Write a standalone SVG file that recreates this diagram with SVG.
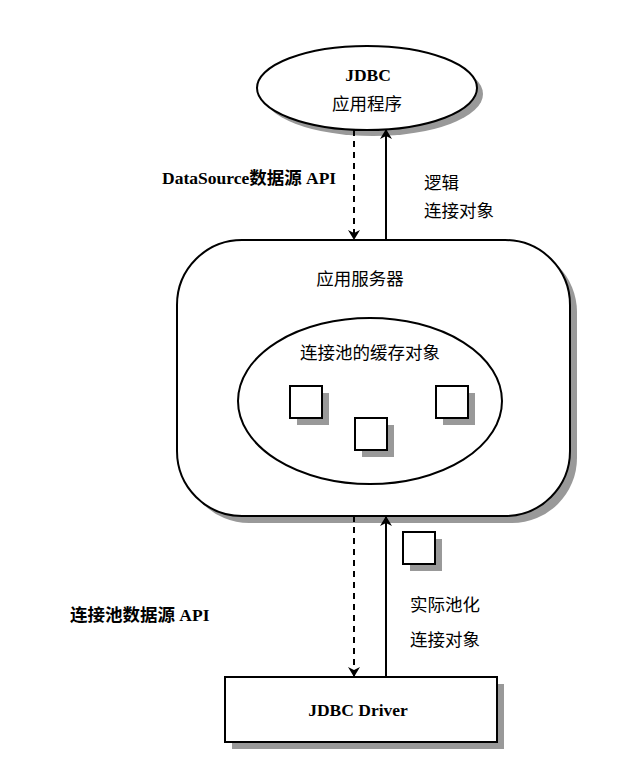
<svg xmlns="http://www.w3.org/2000/svg" width="634" height="761" viewBox="0 0 634 761">
<defs>
<style>
.sh{fill:#999;stroke:none}
.nd{fill:#fff;stroke:#000;stroke-width:2}
.ln{stroke:#000;stroke-width:2;fill:none}
.dash{stroke-dasharray:6,5}
text{font-family:"Liberation Serif","Noto Sans CJK SC",serif;font-size:17.5px;fill:#000}
.b{font-weight:bold}
.c{text-anchor:middle}
</style>
<marker id="ah" viewBox="0 0 10 12" refX="10" refY="6" markerWidth="10" markerHeight="12" markerUnits="userSpaceOnUse" orient="auto">
<path d="M0,0 L10,6 L0,12 L3,6 Z" fill="#000"/>
</marker>
</defs>
<g id="app">
<ellipse class="sh" cx="373" cy="94" rx="110" ry="42"/>
<ellipse class="nd" cx="367" cy="88" rx="110" ry="42"/>
<text class="b c" x="368" y="81" font-size="19">JDBC</text>
<text class="c" x="367" y="110" font-size="16.5">应用程序</text>
</g>
<g id="server">
<rect class="sh" x="184" y="247" width="393" height="276" rx="65" ry="65"/>
<rect class="nd" x="177" y="240" width="393" height="276" rx="65" ry="65"/>
<text class="c" x="360" y="285">应用服务器</text>
</g>
<g id="pool">
<ellipse class="nd" cx="370" cy="401" rx="132" ry="83"/>
<text class="c" x="370" y="359">连接池的缓存对象</text>
</g>
<g id="obj1">
<rect class="sh" x="297" y="393" width="32" height="32"/>
<rect class="nd" x="290" y="386" width="32" height="32"/>
</g>
<g id="obj2">
<rect class="sh" x="443" y="393" width="32" height="32"/>
<rect class="nd" x="436" y="386" width="32" height="32"/>
</g>
<g id="obj3">
<rect class="sh" x="362" y="425" width="32" height="32"/>
<rect class="nd" x="355" y="418" width="32" height="32"/>
</g>
<g id="obj4">
<rect class="sh" x="410" y="539" width="32" height="32"/>
<rect class="nd" x="403" y="532" width="32" height="32"/>
</g>
<g id="driver">
<rect class="sh" x="232" y="684" width="272" height="65"/>
<rect class="nd" x="225" y="677" width="272" height="65"/>
<text class="b c" x="358" y="716" font-size="19">JDBC Driver</text>
</g>
<g id="connectors">
<line class="ln dash" x1="354" y1="130" x2="354" y2="240" marker-end="url(#ah)"/>
<line class="ln" x1="386" y1="240" x2="386" y2="129" marker-end="url(#ah)"/>
<line class="ln dash" x1="354" y1="516" x2="354" y2="677" marker-end="url(#ah)"/>
<line class="ln" x1="386" y1="677" x2="386" y2="516" marker-end="url(#ah)"/>
</g>
<g id="labels">
<text class="b" x="162" y="184" font-size="19">DataSource数据源 API</text>
<text x="424" y="189">逻辑</text>
<text x="424" y="217">连接对象</text>
<text class="b" x="70" y="621" font-size="18">连接池数据源 API</text>
<text x="410" y="611">实际池化</text>
<text x="410" y="646">连接对象</text>
</g>
</svg>
